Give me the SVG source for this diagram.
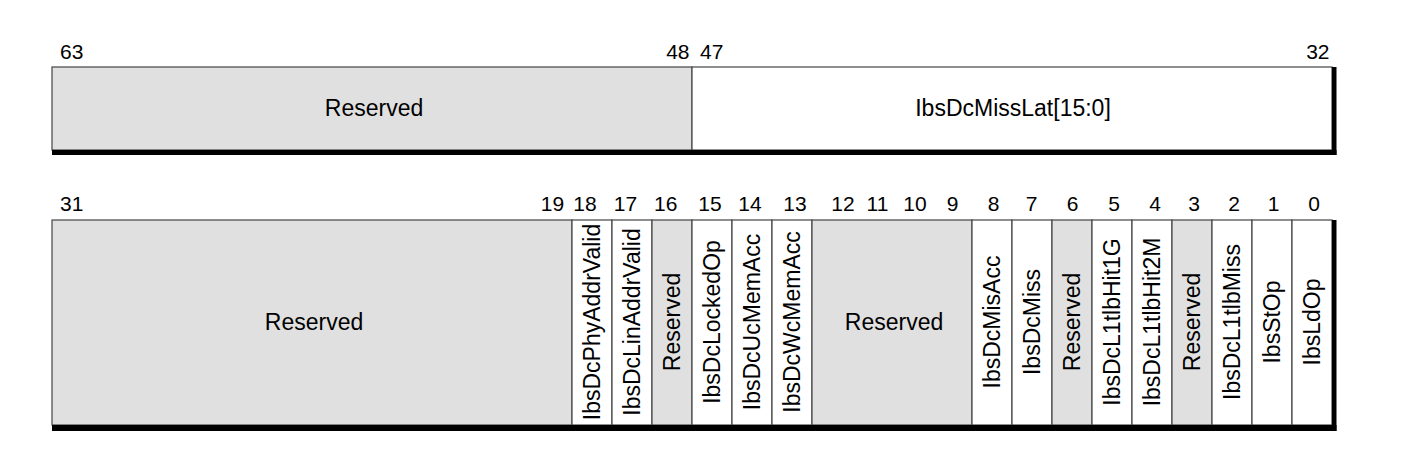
<svg xmlns="http://www.w3.org/2000/svg" width="1420" height="472" viewBox="0 0 1420 472">
<style>
text{font-family:"Liberation Sans",Arial,Helvetica,sans-serif;fill:#000}
.num{font-size:21px}
.lbl{font-size:23px;text-anchor:middle}
.vl{font-size:23px;text-anchor:middle}
.res{fill:#e0e0e0;stroke:#444;stroke-width:1.2}
.fld{fill:#fff;stroke:#444;stroke-width:1.2}
.bar{fill:#000}
.c{text-anchor:middle}
.e{text-anchor:end}
</style>
<rect width="1420" height="472" fill="#fff"/>
<g id="top-bits">
<text class="num" x="60" y="59">63</text>
<text class="num e" x="689.5" y="59">48</text>
<text class="num" x="700" y="59">47</text>
<text class="num e" x="1329.5" y="59">32</text>
</g>
<g id="top-reserved">
<rect class="res" x="52" y="67" width="640" height="83"/>
<text class="lbl" x="374" y="116">Reserved</text>
</g>
<g id="top-IbsDcMissLat">
<rect class="fld" x="692" y="67" width="640" height="83"/>
<text class="lbl" x="1013" y="116">IbsDcMissLat[15:0]</text>
</g>
<g id="top-shadow">
<rect class="bar" x="1332" y="67" width="4.5" height="88"/>
<rect class="bar" x="52" y="150" width="1284.5" height="5"/>
</g>
<g id="bottom-bits">
<text class="num" x="60" y="211">31</text>
<text class="num c" x="552.5" y="211">19</text>
<text class="num c" x="585" y="211">18</text>
<text class="num c" x="625.5" y="211">17</text>
<text class="num c" x="665.7" y="211">16</text>
<text class="num c" x="710" y="211">15</text>
<text class="num c" x="750" y="211">14</text>
<text class="num c" x="795" y="211">13</text>
<text class="num c" x="843" y="211">12</text>
<text class="num c" x="877.5" y="211">11</text>
<text class="num c" x="915" y="211">10</text>
<text class="num c" x="952.5" y="211">9</text>
<text class="num c" x="993.5" y="211">8</text>
<text class="num c" x="1031.7" y="211">7</text>
<text class="num c" x="1072.5" y="211">6</text>
<text class="num c" x="1114" y="211">5</text>
<text class="num c" x="1155" y="211">4</text>
<text class="num c" x="1194" y="211">3</text>
<text class="num c" x="1234" y="211">2</text>
<text class="num c" x="1273.5" y="211">1</text>
<text class="num c" x="1314" y="211">0</text>
</g>
<g id="f31-19">
<rect class="res" x="52" y="220" width="520" height="205"/>
<text class="lbl" x="314" y="330">Reserved</text>
</g>
<g id="f18">
<rect class="fld" x="572" y="220" width="40" height="205"/>
<text class="vl" transform="translate(600,322) rotate(-90)">IbsDcPhyAddrValid</text>
</g>
<g id="f17">
<rect class="fld" x="612" y="220" width="40" height="205"/>
<text class="vl" transform="translate(640,322) rotate(-90)">IbsDcLinAddrValid</text>
</g>
<g id="f16">
<rect class="res" x="652" y="220" width="40" height="205"/>
<text class="vl" transform="translate(680,322) rotate(-90)">Reserved</text>
</g>
<g id="f15">
<rect class="fld" x="692" y="220" width="40" height="205"/>
<text class="vl" transform="translate(720,322) rotate(-90)">IbsDcLockedOp</text>
</g>
<g id="f14">
<rect class="fld" x="732" y="220" width="40" height="205"/>
<text class="vl" transform="translate(760,322) rotate(-90)">IbsDcUcMemAcc</text>
</g>
<g id="f13">
<rect class="fld" x="772" y="220" width="40" height="205"/>
<text class="vl" transform="translate(800,322) rotate(-90)">IbsDcWcMemAcc</text>
</g>
<g id="f12-9">
<rect class="res" x="812" y="220" width="160" height="205"/>
<text class="lbl" x="894" y="330">Reserved</text>
</g>
<g id="f8">
<rect class="fld" x="972" y="220" width="40" height="205"/>
<text class="vl" transform="translate(1000,322) rotate(-90)">IbsDcMisAcc</text>
</g>
<g id="f7">
<rect class="fld" x="1012" y="220" width="40" height="205"/>
<text class="vl" transform="translate(1040,322) rotate(-90)">IbsDcMiss</text>
</g>
<g id="f6">
<rect class="res" x="1052" y="220" width="40" height="205"/>
<text class="vl" transform="translate(1080,322) rotate(-90)">Reserved</text>
</g>
<g id="f5">
<rect class="fld" x="1092" y="220" width="40" height="205"/>
<text class="vl" transform="translate(1120,322) rotate(-90)">IbsDcL1tlbHit1G</text>
</g>
<g id="f4">
<rect class="fld" x="1132" y="220" width="40" height="205"/>
<text class="vl" transform="translate(1160,322) rotate(-90)">IbsDcL1tlbHit2M</text>
</g>
<g id="f3">
<rect class="res" x="1172" y="220" width="40" height="205"/>
<text class="vl" transform="translate(1200,322) rotate(-90)">Reserved</text>
</g>
<g id="f2">
<rect class="fld" x="1212" y="220" width="40" height="205"/>
<text class="vl" transform="translate(1240,322) rotate(-90)">IbsDcL1tlbMiss</text>
</g>
<g id="f1">
<rect class="fld" x="1252" y="220" width="40" height="205"/>
<text class="vl" transform="translate(1280,322) rotate(-90)">IbsStOp</text>
</g>
<g id="f0">
<rect class="fld" x="1292" y="220" width="40" height="205"/>
<text class="vl" transform="translate(1320,322) rotate(-90)">IbsLdOp</text>
</g>
<g id="bottom-shadow">
<rect class="bar" x="1332" y="220" width="4.5" height="211"/>
<rect class="bar" x="52" y="425" width="1284.5" height="6"/>
</g>
<g id="connectors"></g>
</svg>
